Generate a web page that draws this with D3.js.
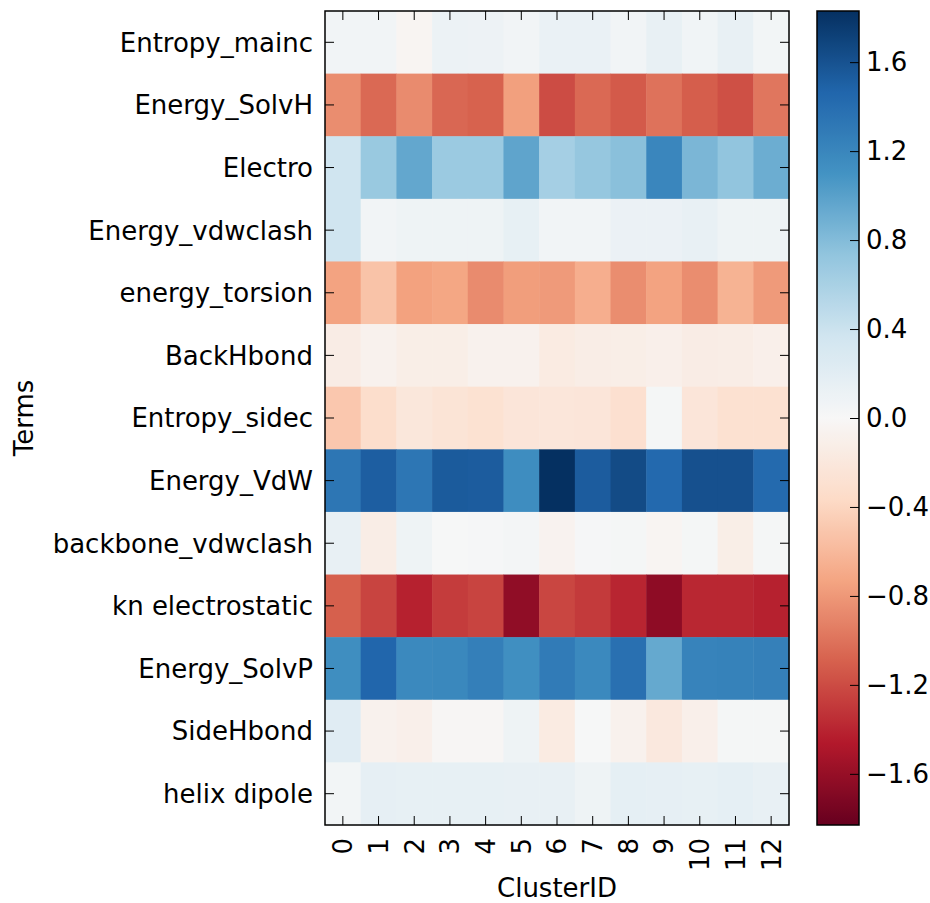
<!DOCTYPE html>
<html>
<head>
<meta charset="utf-8">
<script src="https://cdn.jsdelivr.net/npm/d3@7"></script>
<style>
  body { margin: 0; background: #fff; }
  svg { display: block; font-family: "DejaVu Sans", sans-serif; }
</style>
</head>
<body>
<svg id="chart" width="930" height="903"></svg>
<script>
// row labels (top to bottom) and cluster ids
const terms = ["Entropy_mainc", "Energy_SolvH", "Electro", "Energy_vdwclash", "energy_torsion",
  "BackHbond", "Entropy_sidec", "Energy_VdW", "backbone_vdwclash", "kn electrostatic",
  "Energy_SolvP", "SideHbond", "helix dipole"];
const clusters = [0, 1, 2, 3, 4, 5, 6, 7, 8, 9, 10, 11, 12];

// one array per term, values for clusters 0..12
const entropyMainc    = [0.06, 0.06, -0.04, 0.11, 0.10, 0.06, 0.13, 0.13, 0.06, 0.14, 0.07, 0.14, 0.05];
const energySolvH     = [-0.86, -1.05, -0.87, -1.06, -1.09, -0.76, -1.20, -1.05, -1.13, -1.00, -1.11, -1.18, -0.98];
const electro         = [0.37, 0.69, 0.95, 0.68, 0.68, 0.97, 0.62, 0.71, 0.77, 1.20, 0.84, 0.73, 0.91];
const energyVdwclash  = [0.37, 0.06, 0.09, 0.09, 0.09, 0.15, 0.06, 0.06, 0.12, 0.12, 0.14, 0.09, 0.09];
const energyTorsion   = [-0.74, -0.53, -0.75, -0.72, -0.87, -0.77, -0.79, -0.67, -0.86, -0.74, -0.86, -0.64, -0.79];
const backHbond       = [-0.14, -0.08, -0.12, -0.12, -0.08, -0.08, -0.16, -0.13, -0.12, -0.10, -0.14, -0.13, -0.10];
const entropySidec    = [-0.50, -0.33, -0.21, -0.25, -0.28, -0.23, -0.22, -0.23, -0.30, 0.03, -0.23, -0.29, -0.29];
const energyVdW       = [1.33, 1.52, 1.33, 1.54, 1.53, 1.15, 1.83, 1.53, 1.65, 1.44, 1.61, 1.61, 1.43];
const backboneVdw     = [0.14, -0.13, 0.09, 0.01, 0.02, 0.04, -0.06, 0.02, 0.03, -0.04, 0.03, -0.12, 0.03];
const knElectrostatic = [-1.10, -1.24, -1.42, -1.28, -1.24, -1.63, -1.23, -1.29, -1.40, -1.64, -1.39, -1.39, -1.42];
const energySolvP     = [1.14, 1.46, 1.18, 1.19, 1.26, 1.13, 1.29, 1.18, 1.38, 0.94, 1.23, 1.24, 1.25];
const sideHbond       = [0.22, -0.08, -0.10, -0.02, -0.02, 0.09, -0.16, 0.01, -0.08, -0.19, -0.10, 0.03, 0.03];
const helixDipole     = [0.05, 0.16, 0.15, 0.15, 0.15, 0.14, 0.14, 0.09, 0.17, 0.16, 0.15, 0.17, 0.14];

const rows = [entropyMainc, energySolvH, electro, energyVdwclash, energyTorsion, backHbond,
  entropySidec, energyVdW, backboneVdw, knElectrostatic, energySolvP, sideHbond, helixDipole];

const colorTicks = [-1.6, -1.2, -0.8, -0.4, 0.0, 0.4, 0.8, 1.2, 1.6];
const vmax = 1.83;

// matplotlib RdBu, linear between the brewer stops
const rdbu = ["#67001f", "#b2182b", "#d6604d", "#f4a582", "#fddbc7", "#f7f7f7",
  "#d1e5f0", "#92c5de", "#4393c3", "#2166ac", "#053061"];

const svg = d3.select("#chart");
const fontSize = 26;
const tickLen = 9;

const plot = {left: 325, right: 789, top: 11, bottom: 825};
const cbar = {left: 817, right: 859, top: 11, bottom: 825};

const color = d3.scaleLinear()
  .domain(d3.range(rdbu.length).map(i => -vmax + i * (2 * vmax) / (rdbu.length - 1)))
  .range(rdbu)
  .interpolate(d3.interpolateRgb)
  .clamp(true);

const x = d3.scaleBand().domain(clusters).range([plot.left, plot.right]);
const y = d3.scaleBand().domain(terms).range([plot.top, plot.bottom]);

// flatten into cells
const cells = [];
rows.forEach((vals, r) => vals.forEach((v, c) => cells.push({term: terms[r], cluster: clusters[c], v})));

svg.append("g")
  .selectAll("rect")
  .data(cells)
  .join("rect")
  .attr("x", d => x(d.cluster))
  .attr("y", d => y(d.term))
  .attr("width", x.bandwidth() + 0.5)
  .attr("height", y.bandwidth() + 0.5)
  .attr("fill", d => color(d.v));

// ticks inward on all four sides (classic matplotlib look)
const tk = svg.append("g").attr("stroke", "#000").attr("stroke-width", 1);
clusters.forEach(c => {
  const cx = x(c) + x.bandwidth() / 2;
  tk.append("line").attr("x1", cx).attr("x2", cx).attr("y1", plot.top).attr("y2", plot.top + tickLen);
  tk.append("line").attr("x1", cx).attr("x2", cx).attr("y1", plot.bottom).attr("y2", plot.bottom - tickLen);
});
terms.forEach(t => {
  const cy = y(t) + y.bandwidth() / 2;
  tk.append("line").attr("y1", cy).attr("y2", cy).attr("x1", plot.left).attr("x2", plot.left + tickLen);
  tk.append("line").attr("y1", cy).attr("y2", cy).attr("x1", plot.right).attr("x2", plot.right - tickLen);
});

svg.append("rect")
  .attr("x", plot.left).attr("y", plot.top)
  .attr("width", plot.right - plot.left).attr("height", plot.bottom - plot.top)
  .attr("fill", "none").attr("stroke", "#000").attr("stroke-width", 1.5);

// tick labels
svg.append("g")
  .selectAll("text")
  .data(terms)
  .join("text")
  .attr("x", plot.left - 12)
  .attr("y", d => y(d) + y.bandwidth() / 2)
  .attr("dy", "0.36em")
  .attr("text-anchor", "end")
  .attr("font-size", fontSize)
  .attr("fill", "#000")
  .text(d => d);

svg.append("g")
  .selectAll("text")
  .data(clusters)
  .join("text")
  .attr("transform", d => `translate(${x(d) + x.bandwidth() / 2},${plot.bottom + 13}) rotate(-90)`)
  .attr("dy", "0.36em")
  .attr("text-anchor", "end")
  .attr("font-size", fontSize)
  .attr("fill", "#000")
  .text(d => d);

// axis titles
svg.append("text")
  .attr("x", (plot.left + plot.right) / 2)
  .attr("y", 897)
  .attr("text-anchor", "middle")
  .attr("font-size", fontSize)
  .text("ClusterID");

svg.append("text")
  .attr("transform", `translate(33,${(plot.top + plot.bottom) / 2}) rotate(-90)`)
  .attr("text-anchor", "middle")
  .attr("font-size", fontSize)
  .text("Terms");

// colorbar
const cy = d3.scaleLinear().domain([-vmax, vmax]).range([cbar.bottom, cbar.top]);
const defs = svg.append("defs");
const grad = defs.append("linearGradient")
  .attr("id", "cbgrad")
  .attr("x1", 0).attr("y1", 1).attr("x2", 0).attr("y2", 0);
grad.selectAll("stop")
  .data(d3.range(0, 1.0001, 0.01))
  .join("stop")
  .attr("offset", d => d)
  .attr("stop-color", d => color(-vmax + d * 2 * vmax));

svg.append("rect")
  .attr("x", cbar.left).attr("y", cbar.top)
  .attr("width", cbar.right - cbar.left).attr("height", cbar.bottom - cbar.top)
  .attr("fill", "url(#cbgrad)")
  .attr("stroke", "#000").attr("stroke-width", 1.5);

const cax = d3.axisRight(cy)
  .tickValues(colorTicks)
  .tickSize(-tickLen)
  .tickPadding(7)
  .tickFormat(d => d3.format(".1f")(d).replace("-", "\u2212"));

svg.append("g")
  .attr("transform", `translate(${cbar.right},0)`)
  .call(cax)
  .call(g => g.select(".domain").remove())
  .call(g => g.selectAll(".tick line").attr("stroke", "#000"))
  .call(g => g.selectAll(".tick text")
    .attr("font-family", "DejaVu Sans, sans-serif")
    .attr("font-size", fontSize)
    .attr("fill", "#000"));
</script>
</body>
</html>
